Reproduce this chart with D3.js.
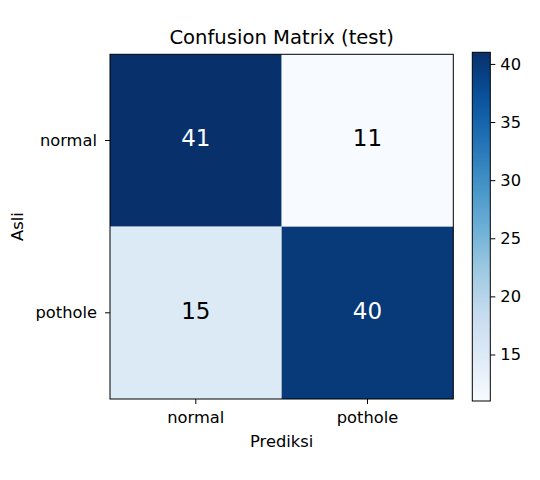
<!DOCTYPE html>
<html><head><meta charset="utf-8">
<script src="https://cdn.jsdelivr.net/npm/d3@7"></script>
<style>body{margin:0;background:#fff}svg{font-family:"DejaVu Sans",sans-serif}</style>
</head><body>
<svg id="c" width="540" height="480"></svg>
<script>
const predicted = ["normal", "pothole"];
const actual = ["normal", "pothole"];
const matrix = [[41, 11], [15, 40]];
const colorbarTicks = [15, 20, 25, 30, 35, 40];
const title = "Confusion Matrix (test)";
const xLabel = "Prediksi";
const yLabel = "Asli";

const svg = d3.select("#c");
const L = 110, R = 453.3, T = 54.3, B = 399;
const vals = matrix.flat();
const vmin = d3.min(vals), vmax = d3.max(vals);
const blues = ["#f7fbff","#deebf7","#c6dbef","#9ecae1","#6baed6","#4292c6","#2171b5","#08519c","#08306b"];
const color = d3.scaleLinear()
  .domain(blues.map((_, i) => vmin + (vmax - vmin) * i / (blues.length - 1)))
  .range(blues).interpolate(d3.interpolateRgb).clamp(true);

const x = d3.scaleBand().domain(predicted).range([L, R]);
const y = d3.scaleBand().domain(actual).range([T, B]);

const cells = [];
actual.forEach((a, i) => predicted.forEach((p, j) => cells.push({a, p, v: matrix[i][j]})));

svg.append("g").selectAll("rect").data(cells).join("rect")
  .attr("x", d => x(d.p)).attr("y", d => y(d.a))
  .attr("width", x.bandwidth()).attr("height", y.bandwidth())
  .attr("fill", d => color(d.v));

const thresh = vmax / 2;
svg.append("g").selectAll("text").data(cells).join("text")
  .attr("x", d => x(d.p) + x.bandwidth() / 2)
  .attr("y", d => y(d.a) + y.bandwidth() / 2 + 6)
  .attr("text-anchor", "middle")
  .attr("font-size", "23px")
  .attr("fill", d => d.v > thresh ? "#fff" : "#000")
  .text(d => d.v);

svg.append("rect").attr("x", L).attr("y", T).attr("width", R - L).attr("height", B - T)
  .attr("fill", "none").attr("stroke", "#000").attr("stroke-width", 1);

const xAxis = svg.append("g").attr("transform", `translate(0,${B})`)
  .call(d3.axisBottom(x).tickSize(5).tickPadding(4));
const yAxis = svg.append("g").attr("transform", `translate(${L},0)`)
  .call(d3.axisLeft(y).tickSize(5).tickPadding(8));
[xAxis, yAxis].forEach(g => {
  g.select(".domain").remove();
  g.selectAll("text").attr("font-size", "16.3px").attr("font-family", "DejaVu Sans").attr("fill", "#000");
  g.selectAll("line").attr("stroke", "#000");
});
xAxis.selectAll("text").attr("dy", null).attr("y", 23.7);

svg.append("text").attr("x", (L + R) / 2).attr("y", 44.3)
  .attr("text-anchor", "middle").attr("font-size", "19.6px").text(title);
svg.append("text").attr("x", (L + R) / 2).attr("y", 446.7)
  .attr("text-anchor", "middle").attr("font-size", "16.3px").text(xLabel);
svg.append("text").attr("transform", `translate(23.3,${(T + B) / 2}) rotate(-90)`)
  .attr("text-anchor", "middle").attr("font-size", "16.3px").text(yLabel);

// colorbar
const cbL = 472.3, cbR = 490.3, cbT = 52.3, cbB = 401;
const cy = d3.scaleLinear().domain([vmin, vmax]).range([cbB, cbT]);
const defs = svg.append("defs");
const grad = defs.append("linearGradient").attr("id", "cbg")
  .attr("x1", 0).attr("y1", 1).attr("x2", 0).attr("y2", 0);
d3.range(0, 1.0001, 0.05).forEach(t => {
  grad.append("stop").attr("offset", t).attr("stop-color", color(vmin + t * (vmax - vmin)));
});
svg.append("rect").attr("x", cbL).attr("y", cbT).attr("width", cbR - cbL).attr("height", cbB - cbT)
  .attr("fill", "url(#cbg)").attr("stroke", "#000").attr("stroke-width", 1);
const cAxis = svg.append("g").attr("transform", `translate(${cbR},0)`)
  .call(d3.axisRight(cy).tickValues(colorbarTicks).tickSize(5).tickPadding(5));
cAxis.select(".domain").remove();
cAxis.selectAll("text").attr("font-size", "16.3px").attr("font-family", "DejaVu Sans").attr("fill", "#000");
cAxis.selectAll("line").attr("stroke", "#000");
</script>
</body></html>
